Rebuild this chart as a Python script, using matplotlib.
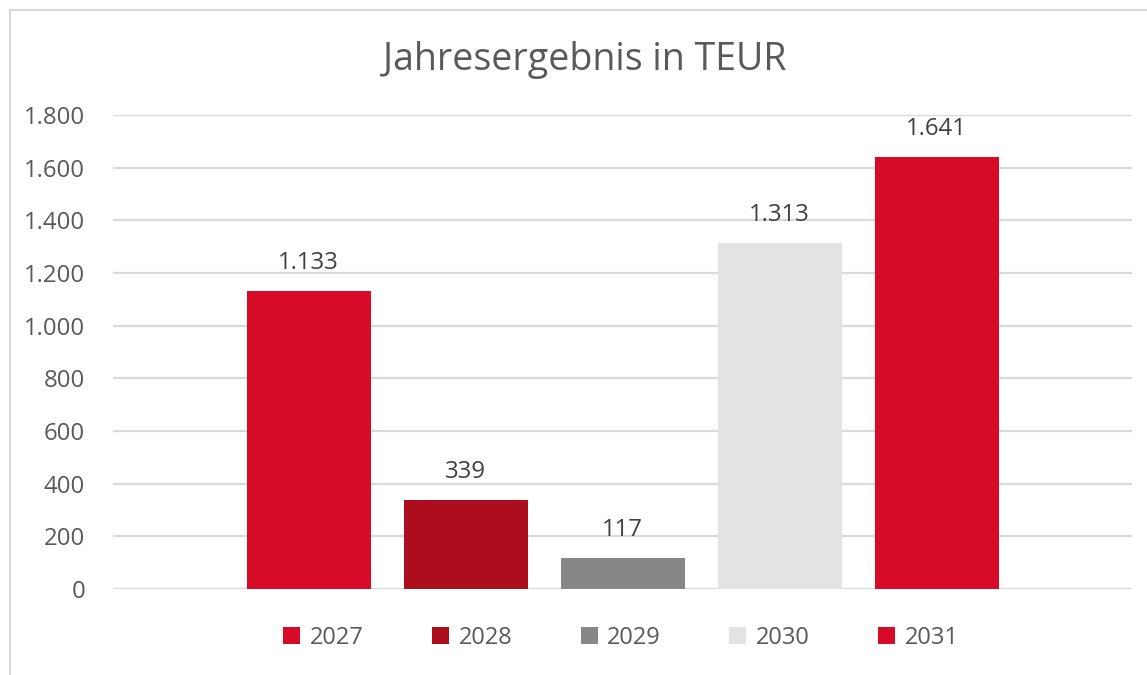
import matplotlib
matplotlib.use("Agg")
import matplotlib.pyplot as plt
from matplotlib.lines import Line2D
from matplotlib.patches import Patch

years = ["2027", "2028", "2029", "2030", "2031"]
values = [1133, 339, 117, 1313, 1641]
labels = ["1.133", "339", "117", "1.313", "1.641"]
colors = ["#D50B28", "#AD0E1E", "#878787", "#E3E3E3", "#D50B28"]
yticks = [0, 200, 400, 600, 800, 1000, 1200, 1400, 1600, 1800]
yticklabels = ["0", "200", "400", "600", "800", "1.000", "1.200", "1.400", "1.600", "1.800"]

plt.rcParams['font.family'] = ['Open Sans', 'DejaVu Sans']

W, H = 1147, 675
fig = plt.figure(figsize=(W / 100, H / 100), dpi=100)
ax = fig.add_axes([113 / W, 1 - 589 / H, (1132 - 113) / W, (589 - 115) / H])

n = len(years)
bw = 124 / 157
for i, (v, c, lab) in enumerate(zip(values, colors, labels)):
    x = i - (n - 1) / 2
    ax.bar(x, v, width=bw, color=c, zorder=3)
    ax.annotate(lab, (x, v), xytext=(0, 20), textcoords="offset points",
                ha="center", va="center", fontsize=17.3, color="#404040")

half = (1132 - 113) / 157 / 2
ax.set_xlim(-half, half)
ax.set_ylim(0, 1800)
ax.set_yticks(yticks)
ax.set_yticklabels(yticklabels)
ax.set_xticks([])
ax.tick_params(axis="y", length=0, pad=20, labelsize=17.3, labelcolor="#595959")
ax.grid(axis="y", color="#D9D9D9", linewidth=1.6, zorder=0)
for s in ax.spines.values():
    s.set_visible(False)

fig.text(585 / W, 1 - 60 / H, "Jahresergebnis in TEUR", ha="center", va="center",
         fontsize=27, color="#595959")

handles = [Patch(facecolor=c, edgecolor="none") for c in colors]
leg = fig.legend(handles, years, loc="center", bbox_to_anchor=(621 / W, 1 - 638 / H),
                 ncol=5, frameon=False, fontsize=17, handlelength=0.72, handleheight=0.72,
                 handletextpad=0.4, columnspacing=2.9)
for t in leg.get_texts():
    t.set_color("#595959")

# chart frame (left and top edges visible)
fig.add_artist(Line2D([9.5 / W, 9.5 / W], [0, 1 - 10 / H], transform=fig.transFigure,
                      color="#D9D9D9", linewidth=1.5))
fig.add_artist(Line2D([9.5 / W, 1], [1 - 10 / H, 1 - 10 / H], transform=fig.transFigure,
                      color="#D9D9D9", linewidth=1.5))

fig.savefig("out.png", dpi=100)
